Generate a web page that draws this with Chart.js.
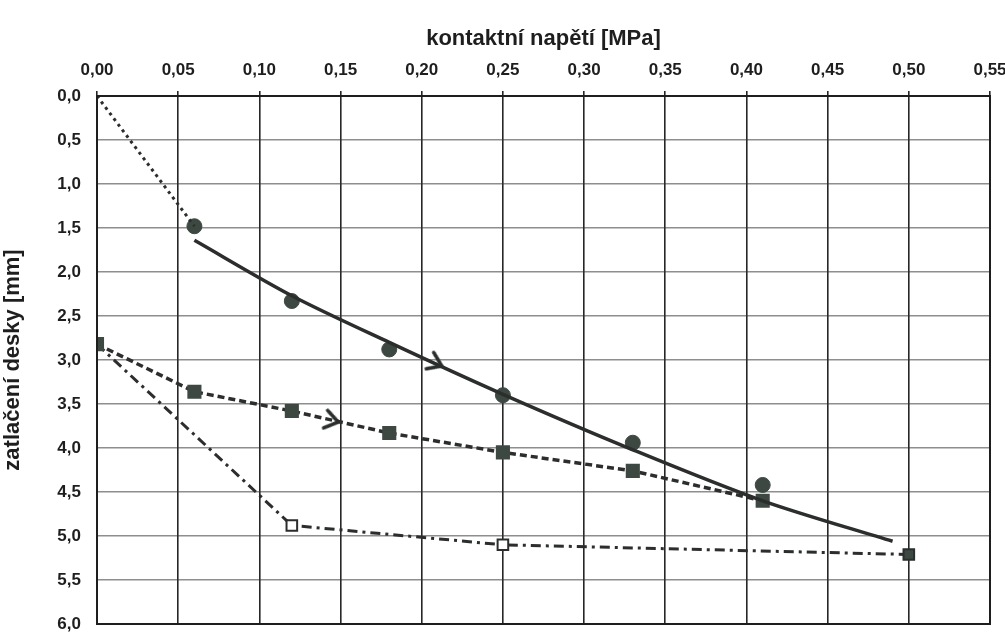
<!DOCTYPE html>
<html><head><meta charset="utf-8">
<script src="https://cdn.jsdelivr.net/npm/chart.js@4/dist/chart.umd.min.js"></script>
<style>html,body{margin:0;padding:0;background:#fff}#wrap{width:1005px;height:635px}</style>
</head><body><div id="wrap"><canvas id="c" width="1005" height="635"></canvas></div>
<script>
// Data (x = kontaktní napětí [MPa], y = zatlačení desky [mm])
const xTicks = [0,0.05,0.10,0.15,0.20,0.25,0.30,0.35,0.40,0.45,0.50,0.55];
const yTicks = [0,0.5,1,1.5,2,2.5,3,3.5,4,4.5,5,5.5,6];
const loadStartX = [0, 0.06];
const loadStartY = [0, 1.48];
const circleX = [0.06, 0.12, 0.18, 0.25, 0.33, 0.41];
const circleY = [1.48, 2.33, 2.88, 3.40, 3.94, 4.42];
const trendX = [0.06, 0.12, 0.18, 0.25, 0.33, 0.41, 0.49];
const trendY = [1.64, 2.27, 2.80, 3.39, 4.02, 4.60, 5.06];
const square2X = [0, 0.06, 0.12, 0.18, 0.25, 0.33, 0.41];
const square2Y = [2.82, 3.36, 3.58, 3.83, 4.05, 4.26, 4.60];
const square3X = [0, 0.12, 0.25, 0.50];
const square3Y = [2.82, 4.88, 5.10, 5.21];
const arrowX = [0.209, 0.145];
const arrowY = [3.04, 3.69];

const pts = (xs, ys) => xs.map((x, i) => ({x, y: ys[i]}));
const fmt = (v, d) => v.toFixed(d).replace('.', ',');

function chevron() {
  const c = document.createElement('canvas');
  c.width = 26; c.height = 26;
  const g = c.getContext('2d');
  g.strokeStyle = '#2a2f2c'; g.lineWidth = 3.5; g.lineCap = 'round'; g.lineJoin = 'miter';
  g.beginPath(); g.moveTo(6, 4); g.lineTo(19, 13); g.lineTo(6, 22); g.stroke();
  return c;
}
const chev = chevron();

const LINE = '#2b2e2c';
const MARK = '#3c4841';
const FONT = 'Liberation Sans';

new Chart(document.getElementById('c'), {
  type: 'scatter',
  data: {
    datasets: [
      {data: pts(loadStartX, loadStartY), showLine: true, borderColor: LINE, borderWidth: 3,
       borderDash: [3, 4], pointRadius: 0},
      {data: pts(trendX, trendY), showLine: true, borderColor: LINE, borderWidth: 3.5,
       tension: 0.3, pointRadius: 0},
      {data: pts(square2X, square2Y), showLine: true, borderColor: LINE, borderWidth: 3.5,
       borderDash: [7, 4], pointStyle: 'rect', pointRadius: 7.5, backgroundColor: MARK,
       pointBorderColor: MARK},
      {data: pts(square3X, square3Y), showLine: true, borderColor: LINE, borderWidth: 3,
       borderDash: [10, 5, 3, 5], pointStyle: 'rect', pointRadius: 7.5,
       pointBackgroundColor: ['#3c4841', '#ffffff', '#ffffff', '#3c4841'],
       pointBorderColor: LINE, pointBorderWidth: 2},
      {data: pts(circleX, circleY), showLine: false, pointStyle: 'circle', pointRadius: 7.5,
       backgroundColor: MARK, borderColor: MARK},
      {data: pts(arrowX, arrowY), showLine: false, pointStyle: chev,
       rotation: [24.5, 13], pointRadius: 10}
    ]
  },
  options: {
    animation: false, responsive: false, devicePixelRatio: 1,
    layout: {padding: {left: 0, right: 0, top: 0, bottom: 8}},
    plugins: {legend: {display: false}, tooltip: {enabled: false}},
    scales: {
      x: {
        type: 'linear', position: 'top', min: 0, max: 0.55,
        afterBuildTicks: s => { s.ticks = xTicks.map(v => ({value: v})); },
        afterFit: s => { s.height = 96; s.paddingLeft = 0; s.paddingRight = 15; },
        ticks: {callback: v => fmt(v, 2), color: '#1e1e1e', maxRotation: 0, autoSkip: false,
                font: {family: FONT, size: 17, weight: 'bold'}, padding: 10},
        grid: {color: '#262626', lineWidth: 1.6, tickLength: 5, drawTicks: true},
        border: {color: '#1e1e1e', width: 2},
        title: {display: true, text: 'kontaktní napětí [MPa]', color: '#1e1e1e',
                font: {family: FONT, size: 22, weight: 'bold'}, padding: {top: 26, bottom: 18}}
      },
      y: {
        type: 'linear', reverse: true, min: 0, max: 6,
        afterBuildTicks: s => { s.ticks = yTicks.map(v => ({value: v})); },
        afterFit: s => { s.width = 97; s.paddingTop = 0; s.paddingBottom = 0; },
        ticks: {callback: v => fmt(v, 1), color: '#1e1e1e', autoSkip: false,
                font: {family: FONT, size: 17, weight: 'bold'}, padding: 16},
        grid: {color: 'rgba(50,50,50,0.55)', lineWidth: 1.5, tickLength: 0},
        border: {color: '#1e1e1e', width: 2},
        title: {display: true, text: 'zatlačení desky [mm]', color: '#1e1e1e',
                font: {family: FONT, size: 22, weight: 'bold'}, padding: {top: 0, bottom: 0}}
      }
    }
  },
  plugins: [{
    id: 'frame',
    afterDraw(chart) {
      const {ctx, chartArea: a} = chart;
      ctx.save(); ctx.strokeStyle = '#1e1e1e'; ctx.lineWidth = 2;
      ctx.strokeRect(a.left, a.top, a.right - a.left, a.bottom - a.top);
      ctx.restore();
    }
  }]
});
</script></body></html>
